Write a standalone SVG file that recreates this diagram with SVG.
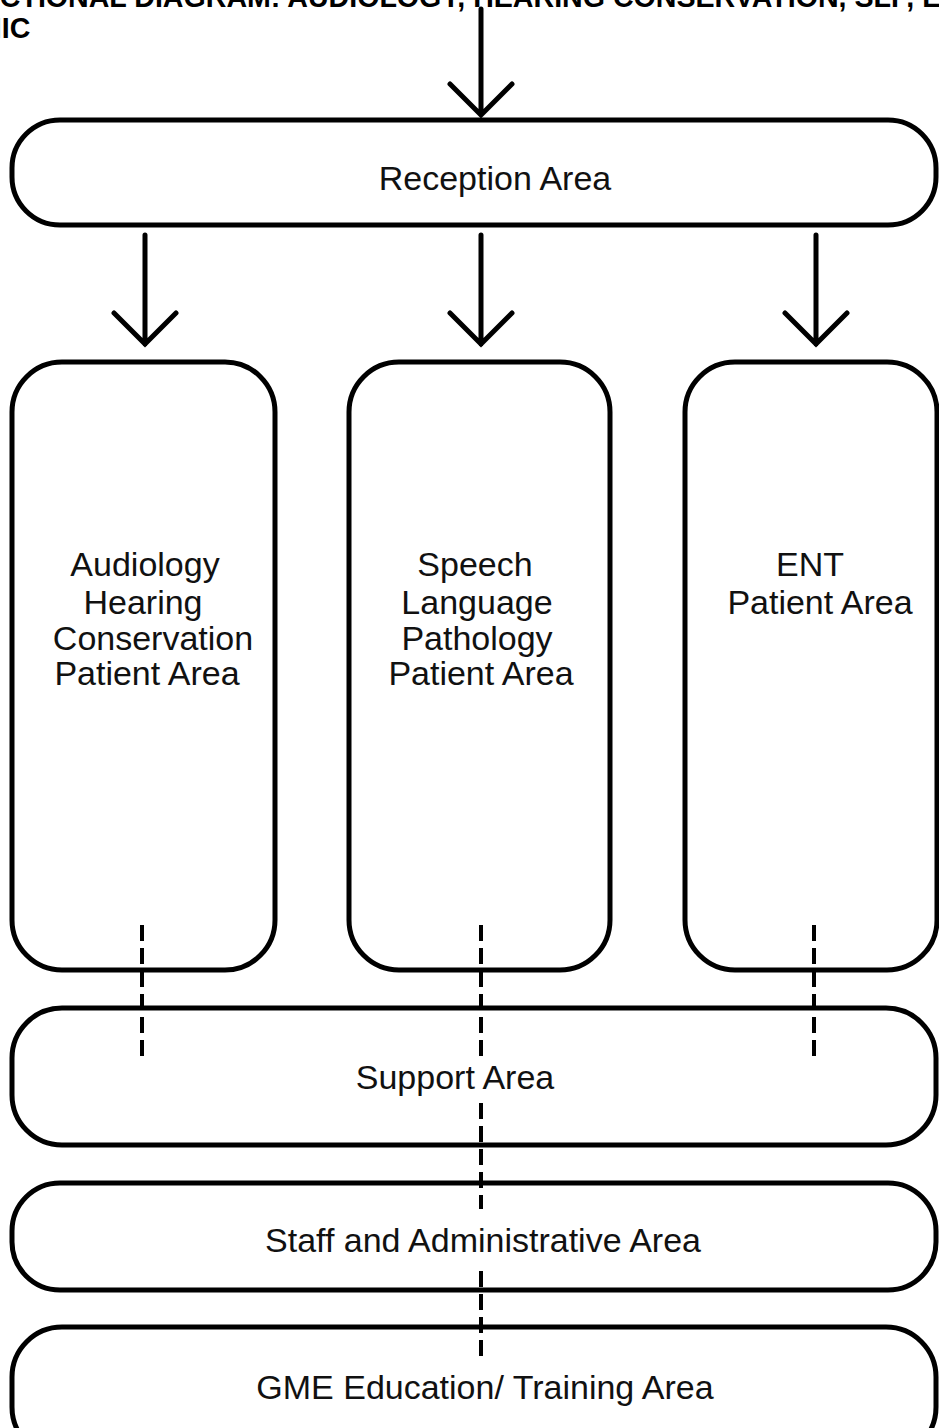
<svg xmlns="http://www.w3.org/2000/svg" width="939" height="1428" viewBox="0 0 939 1428">
  <style>
    .area { fill: #fff; stroke: #000; stroke-width: 5; }
    .label { font-family: "Liberation Sans", Arial, sans-serif; font-size: 34px; fill: #111; text-anchor: middle; }
    .title { font-family: "Liberation Sans", Arial, sans-serif; font-size: 28.6px; font-weight: bold; fill: #000; }
    .flow { fill: none; stroke: #000; stroke-width: 5; stroke-linecap: round; stroke-linejoin: miter; }
    .link { fill: none; stroke: #000; stroke-width: 4; stroke-dasharray: 16 7; }
  </style>
  <rect width="939" height="1428" fill="#fff"/>

  <g id="title">
    <text class="title" x="-59" y="7">FUNCTIONAL DIAGRAM: AUDIOLOGY, HEARING CONSERVATION, SLP, ENT CLIN</text>
    <text class="title" x="-65" y="38">CLINIC</text>
  </g>

  <g id="reception">
    <rect class="area" x="12" y="120" width="924" height="105" rx="48" ry="48"/>
    <text class="label" x="495" y="190">Reception Area</text>
  </g>

  <g id="audiology">
    <rect class="area" x="12" y="362" width="263" height="608" rx="50" ry="50"/>
    <text class="label" x="145" y="576">Audiology</text>
    <text class="label" x="143" y="614">Hearing</text>
    <text class="label" x="153" y="650">Conservation</text>
    <text class="label" x="147" y="685">Patient Area</text>
  </g>

  <g id="slp">
    <rect class="area" x="349" y="362" width="261" height="608" rx="50" ry="50"/>
    <text class="label" x="475" y="576">Speech</text>
    <text class="label" x="477" y="614">Language</text>
    <text class="label" x="477" y="650">Pathology</text>
    <text class="label" x="481" y="685">Patient Area</text>
  </g>

  <g id="ent">
    <rect class="area" x="685" y="362" width="252" height="608" rx="50" ry="50"/>
    <text class="label" x="810" y="576">ENT</text>
    <text class="label" x="820" y="614">Patient Area</text>
  </g>

  <g id="support">
    <rect class="area" x="12" y="1008" width="924" height="137" rx="50" ry="50"/>
    <text class="label" x="455" y="1089">Support Area</text>
  </g>

  <g id="staff">
    <rect class="area" x="12" y="1183" width="924" height="107" rx="48" ry="48"/>
    <text class="label" x="483" y="1252">Staff and Administrative Area</text>
  </g>

  <g id="gme">
    <rect class="area" x="12" y="1327" width="924" height="130" rx="50" ry="50"/>
    <text class="label" x="485" y="1399">GME Education/ Training Area</text>
  </g>

  <g id="connectors">
    <!-- entry into reception -->
    <path class="flow" d="M481 9 V114 M450 84 L481 115 L512 84"/>
    <!-- reception to patient areas -->
    <path class="flow" d="M145 235 V344 M114 313 L145 344 L176 313"/>
    <path class="flow" d="M481 235 V344 M450 313 L481 344 L512 313"/>
    <path class="flow" d="M816 235 V344 M785 313 L816 344 L847 313"/>
    <!-- internal links between areas, broken around the labels -->
    <line class="link" x1="142" y1="925" x2="142" y2="1056"/>
    <line class="link" x1="481" y1="925" x2="481" y2="1057"/>
    <line class="link" x1="481" y1="1103" x2="481" y2="1209"/>
    <line class="link" x1="481" y1="1271" x2="481" y2="1360"/>
    <line class="link" x1="814" y1="925" x2="814" y2="1056"/>
  </g>
</svg>
